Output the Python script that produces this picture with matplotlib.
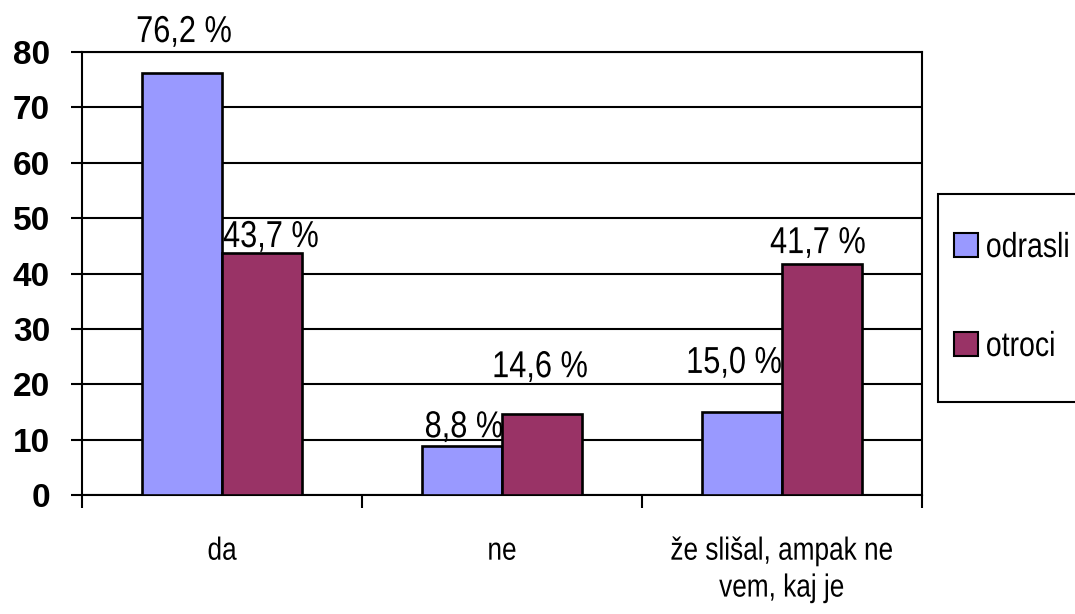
import matplotlib
matplotlib.use('Agg')
import matplotlib.pyplot as plt
from matplotlib import font_manager
from matplotlib.lines import Line2D
from matplotlib.patches import Rectangle
from matplotlib.patheffects import AbstractPathEffect
from matplotlib.transforms import Affine2D
import numpy as np

categories = ['da', 'ne', 'že slišal, ampak ne\nvem, kaj je']
series_names = ['odrasli', 'otroci']
odrasli = [76.2, 8.8, 15.0]
otroci = [43.7, 14.6, 41.7]
value_labels_odrasli = ['76,2 %', '8,8 %', '15,0 %']
value_labels_otroci = ['43,7 %', '14,6 %', '41,7 %']
yticks = [0, 10, 20, 30, 40, 50, 60, 70, 80]

colours = ['#9999FF', '#993366']
# label nudges in pixels (Excel put them a bit irregularly)
offsets_odrasli = [(2, 31), (2, 9), (-8, 39)]
offsets_otroci = [(9, 6), (-2, 37), (-4, 11)]


class Squeeze(AbstractPathEffect):
    # no narrow Arial here, so squash the glyphs sideways instead
    def __init__(self, sx=0.82, anchor='center'):
        super().__init__()
        self.sx = sx
        self.anchor = anchor

    def draw_path(self, renderer, gc, tpath, affine, rgbFace=None):
        ext = tpath.get_extents(affine)
        x0 = ext.x0 if self.anchor == 'left' else (ext.x0 + ext.x1) / 2
        sq = Affine2D().translate(-x0, 0).scale(self.sx, 1).translate(x0, 0)
        renderer.draw_path(gc, tpath, affine + sq, rgbFace)


installed = {f.name for f in font_manager.fontManager.ttflist}
regular = [f for f in ['Liberation Sans', 'DejaVu Sans'] if f in installed]
plt.rcParams['font.family'] = regular

fig = plt.figure(figsize=(10.75, 6.14), dpi=100)
ax = fig.add_axes([0.07628, 0.19381, 0.78140, 0.72150])

x = np.arange(len(categories))
w = 0.2857
series = [odrasli, otroci]
labels = [value_labels_odrasli, value_labels_otroci]
offsets = [offsets_odrasli, offsets_otroci]
for i, vals in enumerate(series):
    xs = x + (i - 0.5) * w
    ax.bar(xs, vals, width=w, color=colours[i], edgecolor='black',
           linewidth=1.9, zorder=3)
    for xi, v, lab, (dx, dy) in zip(xs, vals, labels[i], offsets[i]):
        t = ax.annotate(lab, xy=(xi, v), xytext=(dx, dy), textcoords='offset pixels',
                        ha='center', va='baseline', fontsize=27, zorder=4)
        t.set_path_effects([Squeeze()])

ax.set_xlim(-0.5, 2.5)
ax.set_ylim(0, 80)
ax.set_yticks(yticks)
ax.set_yticklabels([str(t) for t in yticks], fontsize=24, fontweight='bold')
ax.tick_params(axis='y', direction='out', length=8, width=1.5, pad=15)
ax.yaxis.grid(True, color='black', linewidth=1.5, zorder=0)
ax.set_axisbelow(True)

ax.set_xticks(x)
ax.set_xticklabels(categories, fontsize=23, linespacing=1.3)
for t in ax.get_xticklabels():
    t.set_path_effects([Squeeze()])
ax.tick_params(axis='x', which='major', length=0, pad=30)
ax.set_xticks([-0.5, 0.5, 1.5, 2.5], minor=True)
ax.tick_params(axis='x', which='minor', direction='out', length=9, width=1.5)

for sp in ax.spines.values():
    sp.set_linewidth(1.5)
    sp.set_color('black')

# legend box runs off the right edge in the original
fig.patches.append(Rectangle((938 / 1075, 1 - 402 / 614), 160 / 1075, 208 / 614,
                             transform=fig.transFigure, fill=True,
                             facecolor='white', edgecolor='black', linewidth=1.5,
                             zorder=1))
handles = [Line2D([], [], linestyle='none', marker='s', markersize=17.5,
                  markerfacecolor=c, markeredgecolor='black', markeredgewidth=1.5)
           for c in colours]
leg = fig.legend(handles, series_names, loc='center left',
                 bbox_to_anchor=(938 / 1075, 1 - 297 / 614),
                 bbox_transform=fig.transFigure, borderaxespad=0,
                 fontsize=25, frameon=False, borderpad=0.4, handlelength=0.8,
                 handletextpad=0.17, labelspacing=1.9)
leg.set_zorder(2)
for t in leg.get_texts():
    t.set_path_effects([Squeeze(anchor='left')])

fig.savefig('out.png', dpi=100)
